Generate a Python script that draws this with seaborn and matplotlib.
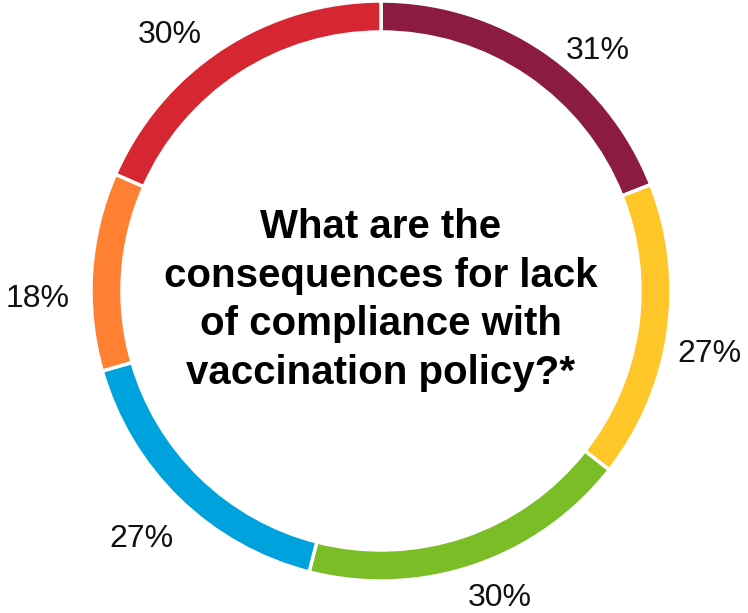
import numpy as np
import matplotlib
matplotlib.use("Agg")
import matplotlib.pyplot as plt
import seaborn as sns

values = [31, 27, 30, 27, 18, 30]
colors = ["#8C1B40", "#FFC629", "#7BBD26", "#00A2DE", "#FF8033", "#D62631"]
title = "What are the\nconsequences for lack\nof compliance with\nvaccination policy?*"

# label placement tweaks (angle shift clockwise in degrees, radial distance / radius)
label_shift = [7.4, 1.9, -2.6, 0.3, -4.6, -6.0]
label_dist = [1.126, 1.152, 1.122, 1.179, 1.183, 1.155]

sns.set_theme(style="white")
plt.rcParams['font.family'] = ['Liberation Sans', 'DejaVu Sans']

W, H = 748, 613
fig = plt.figure(figsize=(W / 100, H / 100), dpi=100)
ax = fig.add_axes([0, 0, 1, 1])

cx, cy, R = 381, H - 291, 290
wedges, _ = ax.pie(
    values, colors=sns.color_palette(colors), startangle=90, counterclock=False,
    center=(cx, cy), radius=R,
    wedgeprops=dict(width=31, edgecolor='white', linewidth=2.5), frame=True)
ax.set_xlim(0, W)
ax.set_ylim(0, H)
ax.set_aspect('equal')
ax.axis('off')

for w, v, sh, d in zip(wedges, values, label_shift, label_dist):
    ang = np.deg2rad((w.theta1 + w.theta2) / 2 - sh)
    x = cx + d * R * np.cos(ang)
    y = cy + d * R * np.sin(ang)
    ax.text(x, y - 12, f"{v}%", ha='center', va='baseline', fontsize=23,
            color='#111111')

ax.text(cx, H - 300, title, ha='center', va='center', fontsize=29,
        fontweight='bold', color='black', linespacing=1.36)

fig.savefig("out.png", dpi=100, facecolor='white')
